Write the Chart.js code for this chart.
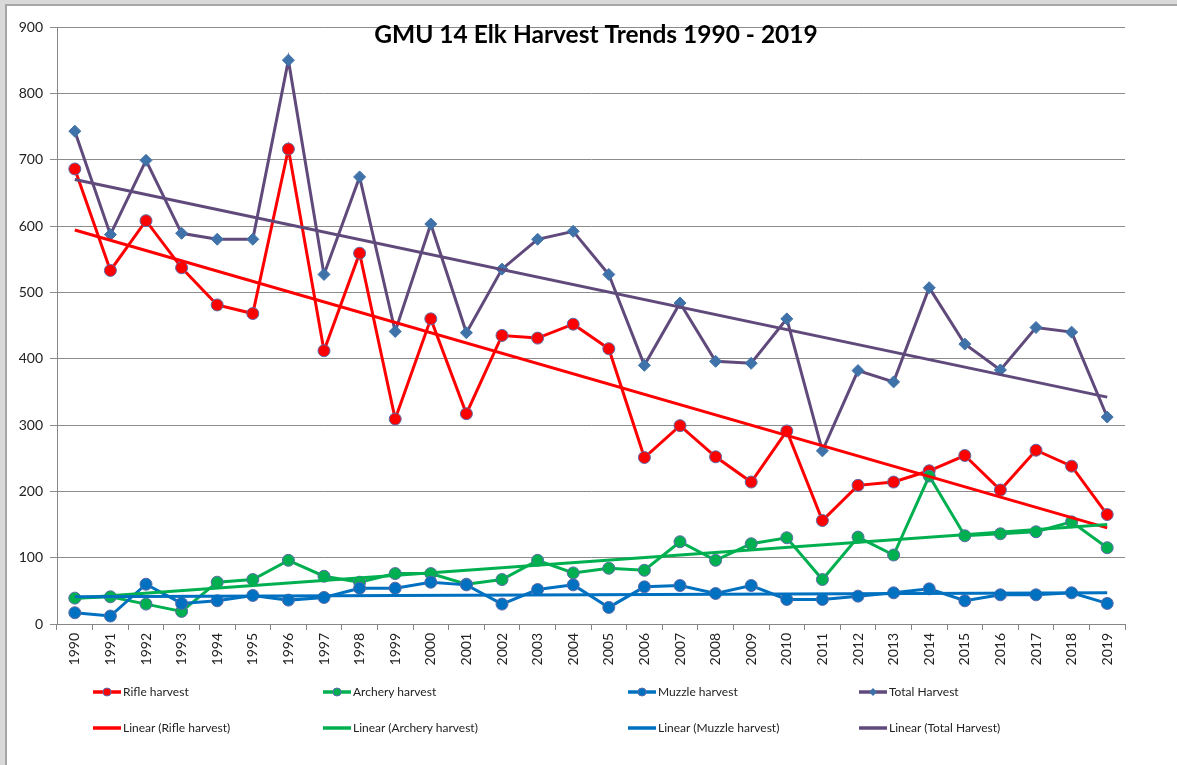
<!DOCTYPE html>
<html>
<head>
<meta charset="utf-8">
<script src="https://cdn.jsdelivr.net/npm/chart.js@4"></script>
<style>
  body { margin: 0; background: #d9d9d9; width: 1177px; height: 765px; overflow: hidden; position: relative; font-family: Lato, sans-serif; }
  #marco { position: absolute; left: 5px; top: 4px; right: 0; bottom: 0; background: #fff; border-top: 2px solid #a6a6a6; border-left: 2px solid #a6a6a6; }
  #grafico { position: absolute; left: 0; top: 0; }
  .leyenda-item { position: absolute; display: flex; align-items: center; font-size: 12px; color: #222; white-space: nowrap; }
  .leyenda-item svg { margin-right: 2px; }
</style>
</head>
<body>
<div id="marco"></div>
<canvas id="grafico" width="1177" height="765"></canvas>
<div id="leyenda"></div>
<script>
// datos
const anios = ['1990', '1991', '1992', '1993', '1994', '1995', '1996', '1997', '1998', '1999',
  '2000', '2001', '2002', '2003', '2004', '2005', '2006', '2007', '2008', '2009',
  '2010', '2011', '2012', '2013', '2014', '2015', '2016', '2017', '2018', '2019'];

const rifle = [686, 533, 608, 537, 481, 468, 716, 412, 559, 309,
  460, 317, 435, 431, 452, 415, 251, 299, 252, 214,
  291, 156, 209, 214, 231, 254, 202, 262, 238, 165];

const archery = [39, 41, 30, 19, 63, 67, 96, 72, 63, 76,
  76, 60, 67, 96, 77, 84, 81, 124, 96, 121,
  130, 67, 131, 104, 223, 133, 136, 139, 154, 115];

const muzzle = [17, 12, 60, 31, 35, 43, 36, 40, 54, 54,
  63, 59, 30, 52, 59, 25, 56, 58, 46, 58,
  37, 37, 42, 47, 53, 35, 44, 44, 47, 31];

const total = [743, 587, 699, 589, 580, 580, 850, 527, 674, 441,
  603, 439, 535, 580, 592, 527, 390, 484, 396, 393,
  460, 261, 382, 365, 507, 422, 383, 447, 440, 312];

// extremos de las lineas de tendencia (1990 y 2019)
const tendenciaRifle = [594, 145];
const tendenciaArchery = [39, 150];
const tendenciaMuzzle = [41, 47];
const tendenciaTotal = [670, 342];

const ticksY = [0, 100, 200, 300, 400, 500, 600, 700, 800, 900];

const ROJO = '#ff0000';
const VERDE = '#00b050';
const AZUL = '#0070c0';
const MORADO = '#604a7b';
const DIAMANTE = '#3f72a8';

function serieTendencia(extremos) {
  const arr = anios.map(() => null);
  arr[0] = extremos[0];
  arr[anios.length - 1] = extremos[1];
  return arr;
}

function serie(label, datos, color, relleno, forma, orden) {
  return {
    label: label,
    data: datos,
    borderColor: color,
    backgroundColor: relleno,
    borderWidth: 3,
    pointStyle: forma,
    pointRadius: 6,
    pointBackgroundColor: relleno,
    pointBorderColor: forma === 'circle' ? '#5b6aa8' : relleno,
    pointBorderWidth: 1,
    tension: 0,
    order: orden
  };
}

function tendencia(label, extremos, color, orden) {
  return {
    label: label,
    data: serieTendencia(extremos),
    borderColor: color,
    backgroundColor: color,
    borderWidth: 3,
    pointRadius: 0,
    spanGaps: true,
    order: orden
  };
}

const datasets = [
  serie('Rifle harvest', rifle, ROJO, ROJO, 'circle', 8),
  serie('Archery harvest', archery, VERDE, VERDE, 'circle', 7),
  serie('Muzzle harvest', muzzle, AZUL, AZUL, 'circle', 6),
  serie('Total Harvest', total, MORADO, DIAMANTE, 'rectRot', 5),
  tendencia('Linear (Rifle harvest)', tendenciaRifle, ROJO, 4),
  tendencia('Linear (Archery harvest)', tendenciaArchery, VERDE, 3),
  tendencia('Linear (Muzzle harvest)', tendenciaMuzzle, AZUL, 2),
  tendencia('Linear (Total Harvest)', tendenciaTotal, MORADO, 1)
];

const tituloPlugin = {
  id: 'tituloExcel',
  afterDraw(chart) {
    const ctx = chart.ctx;
    ctx.save();
    ctx.font = 'bold 24.5px Lato, sans-serif';
    ctx.fillStyle = '#000';
    ctx.textAlign = 'center';
    ctx.textBaseline = 'alphabetic';
    ctx.fillText('GMU 14 Elk Harvest Trends 1990 - 2019', 596, 43);
    ctx.restore();
  }
};

const grafico = new Chart(document.getElementById('grafico'), {
  type: 'line',
  data: { labels: anios, datasets: datasets },
  options: {
    responsive: false,
    animation: false,
    layout: { padding: { left: 0, top: 27, right: 52, bottom: 0 } },
    plugins: {
      legend: { display: false },
      title: { display: false },
      tooltip: { enabled: false }
    },
    scales: {
      x: {
        offset: true,
        grid: { display: true, offset: true, drawOnChartArea: false, drawTicks: true, tickLength: 6, color: '#868686' },
        border: { color: '#868686', width: 1 },
        ticks: { minRotation: 90, maxRotation: 90, autoSkip: false, padding: 3, color: '#222', font: { family: 'Lato', size: 14 } },
        afterFit(scale) { scale.height = 141; }
      },
      y: {
        min: 0,
        max: 900,
        afterBuildTicks(scale) { scale.ticks = ticksY.map(v => ({ value: v })); },
        grid: { color: '#8c8c8c', lineWidth: 1, tickLength: 7 },
        border: { color: '#868686', width: 1 },
        ticks: { padding: 7, color: '#222', font: { family: 'Lato', size: 14 } },
        afterFit(scale) { scale.width = 57; }
      }
    }
  },
  plugins: [tituloPlugin]
});

// leyenda al estilo Excel: 4 columnas, 2 filas
const columnasLeyenda = [93, 323, 628, 859];
const filasLeyenda = [692, 728];
const leyenda = document.getElementById('leyenda');

grafico.data.datasets.forEach((ds, i) => {
  const col = i % 4;
  const fila = Math.floor(i / 4);
  const item = document.createElement('div');
  item.className = 'leyenda-item';
  item.style.left = columnasLeyenda[col] + 'px';
  item.style.top = (filasLeyenda[fila] - 8) + 'px';
  let marca = '';
  if (ds.pointRadius > 0) {
    if (ds.pointStyle === 'rectRot') {
      marca = `<polygon points="14,3 18,7 14,11 10,7" fill="${ds.pointBackgroundColor}"/>`;
    } else {
      marca = `<circle cx="14" cy="7" r="4" fill="${ds.pointBackgroundColor}" stroke="#5b6aa8" stroke-width="1"/>`;
    }
  }
  item.innerHTML = `<svg width="28" height="14"><line x1="0" y1="7" x2="28" y2="7" stroke="${ds.borderColor}" stroke-width="3.5"/>${marca}</svg><span>${ds.label}</span>`;
  leyenda.appendChild(item);
});
</script>
</body>
</html>
